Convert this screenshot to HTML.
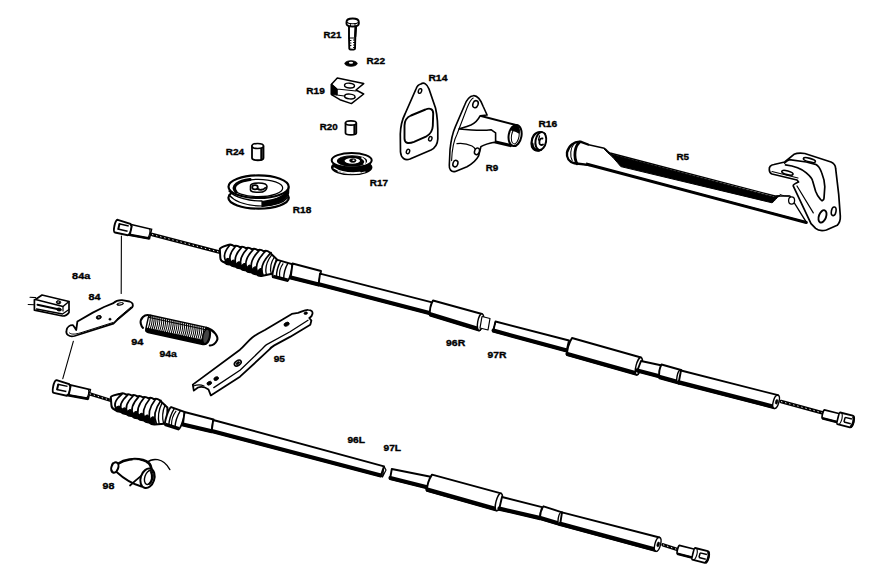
<!DOCTYPE html>
<html><head><meta charset="utf-8"><style>
html,body{margin:0;padding:0;background:#fff;width:876px;height:583px;overflow:hidden}
svg{display:block}
text{font-family:"Liberation Sans",sans-serif;font-weight:bold;fill:#000;stroke:#000;stroke-width:0.35px}
</style></head><body>
<svg width="876" height="583" viewBox="0 0 876 583">
<rect width="876" height="583" fill="#fff"/>
<g transform="translate(114.5 225.4) rotate(12.5) scale(1)"><path d="M15,-4.5 L37,-4.2 L37,5.2 L15,6 Z" fill="#fff" stroke="#000" stroke-width="1.6"/><path d="M15,6 L37,5.2" stroke="#000" stroke-width="2.6"/><path d="M35,-4.2 C36.5,-2 36.5,3 35,5.2" fill="none" stroke="#000" stroke-width="1.1"/><path d="M2,-6.2 L15,-5 L17,-3 L17,5 L15,6.8 L2,6.8 C-0.5,6.8 -0.8,-6.2 2,-6.2 Z" fill="#fff" stroke="#000" stroke-width="1.9"/><path d="M4,-2.5 L14,-2.5 M4,2.8 L14,2.8" stroke="#000" stroke-width="1.5"/><path d="M4.5,-3 L4.5,3.3" stroke="#000" stroke-width="2"/><path d="M15.5,-5 C17.5,-2 17.5,3 15.5,6.6" fill="none" stroke="#000" stroke-width="1.1"/></g>
<polyline points="152,234.5 221,252.5" fill="none" stroke="#000" stroke-width="3.4" stroke-linejoin="round" stroke-linecap="round" />
<line x1="152" y1="234.5" x2="221" y2="252.5" stroke="#fff" stroke-width="0.9" stroke-dasharray="1.4 2.8"/>
<path d="M219.8,249 C220.8,247 225,246 228,245 Q231.2,243.9 233.9,246 Q237.2,245 239.9,247.1 Q243.1,246 245.8,248.1 Q249,247 251.7,249.1 Q255,248.1 257.6,250.1 Q260.9,249.1 263.6,251.2 Q266.8,250.1 269.5,252.2 L276.5,259 L275.5,273 L261.5,276 Q258.6,276.4 256.2,274.1 Q253.4,274.5 251,272.1 Q248.1,272.6 245.7,270.2 Q242.8,270.6 240.4,268.3 Q237.5,268.7 235.1,266.4 Q232.3,266.8 229.9,264.4 Q227,264.8 224.6,262.5 C221.6,261.5 220.3,259.5 220.3,257.5 Z" fill="#fff" stroke="#000" stroke-width="2.0" stroke-linejoin="round" stroke-linecap="round" />
<path d="M224.6,262.5 L224.8,261.6 Q229.1,254.5 230.1,263.5 L230.1,263.5 Q234.7,256 235.4,265.4 L235.4,265.4 Q240.3,257.4 240.7,267.3 L240.7,267.3 Q245.9,258.9 246,269.2 L246,269.2 Q251.5,260.4 251.3,271 L251.3,271 Q257.1,261.9 256.6,272.9 L256.6,272.9 Q262.7,263.4 261.9,274.8 L261.5,276 Z" fill="#000" stroke="#000" stroke-width="1.2" stroke-linejoin="round" stroke-linecap="round" />
<path d="M229.5,245.5 Q221.6,254.8 226.1,261.5" fill="none" stroke="#000" stroke-width="1.7" stroke-linejoin="round" stroke-linecap="round" />
<path d="M235.4,246.5 Q226.9,256.2 231.4,263.4" fill="none" stroke="#000" stroke-width="1.7" stroke-linejoin="round" stroke-linecap="round" />
<path d="M241.4,247.6 Q232.1,257.7 236.6,265.4" fill="none" stroke="#000" stroke-width="1.7" stroke-linejoin="round" stroke-linecap="round" />
<path d="M247.3,248.6 Q237.4,259.2 241.9,267.3" fill="none" stroke="#000" stroke-width="1.7" stroke-linejoin="round" stroke-linecap="round" />
<path d="M253.2,249.6 Q242.7,260.7 247.2,269.2" fill="none" stroke="#000" stroke-width="1.7" stroke-linejoin="round" stroke-linecap="round" />
<path d="M259.1,250.6 Q248,262.1 252.5,271.1" fill="none" stroke="#000" stroke-width="1.7" stroke-linejoin="round" stroke-linecap="round" />
<path d="M265.1,251.7 Q253.2,263.6 257.7,273.1" fill="none" stroke="#000" stroke-width="1.7" stroke-linejoin="round" stroke-linecap="round" />
<path d="M271,252.7 Q258.5,265.1 263,275" fill="none" stroke="#000" stroke-width="1.7" stroke-linejoin="round" stroke-linecap="round" />
<path d="M271.9,254.6 Q263.9,264.8 266.4,274.9" fill="none" stroke="#000" stroke-width="1.3" stroke-linejoin="round" stroke-linecap="round" />
<path d="M274.4,257 Q268.8,265.4 271.3,273.9" fill="none" stroke="#000" stroke-width="1.3" stroke-linejoin="round" stroke-linecap="round" />
<g transform="translate(274.2 268.3) rotate(14.7)"><path d="M1,-9 L16,-8.5 C18,-7 18,7 16,9 L1,9 C-1,7 -1,-7 1,-9 Z" fill="#fff" stroke="#000" stroke-width="1.9"/><path d="M4.5,-8.5 C3,-3 3,3 4.5,8.5 M12,-8.5 C10.5,-3 10.5,3 12,8.5" fill="none" stroke="#000" stroke-width="1.4"/><path d="M1,7.5 L16,7.5" stroke="#000" stroke-width="2.2"/><path d="M7.5,-7 C5.5,-2 5.5,2 7.5,7" fill="none" stroke="#000" stroke-width="1.1"/></g>
<polygon points="292.5,263.5 321,271 318.5,285.5 290.5,278.5" fill="#fff" stroke="#000" stroke-width="1.9" stroke-linejoin="round" />
<polyline points="290.8,277.3 318.8,284.3" fill="none" stroke="#000" stroke-width="3.5" stroke-linejoin="round" stroke-linecap="round" />
<polygon points="320,273.7 433,302.7 431,314.5 318.5,285.3" fill="#fff" stroke="#000" stroke-width="1.9" stroke-linejoin="round" />
<polyline points="318.8,284 431.3,313.2" fill="none" stroke="#000" stroke-width="3.75" stroke-linejoin="round" stroke-linecap="round" />
<path d="M433,300.5 L482,314 L479,330.5 L430,315.5 Q429.1,307.3 433,300.5 Z" fill="#fff" stroke="#000" stroke-width="1.9" stroke-linejoin="round" stroke-linecap="round" />
<polyline points="430.4,314.1 479.4,329.1" fill="none" stroke="#000" stroke-width="4.0" stroke-linejoin="round" stroke-linecap="round" />
<ellipse cx="480.5" cy="322.2" rx="2.8" ry="8.4" transform="rotate(10.3 480.5 322.2)" fill="#fff" stroke="#000" stroke-width="1.4" />
<polygon points="482,316.5 490,318.5 488,330 480,328" fill="#fff" stroke="#000" stroke-width="1.2" stroke-linejoin="round" />
<polygon points="495.5,321.5 569,340.5 566.5,351.5 493,331.7" fill="#fff" stroke="#000" stroke-width="1.9" stroke-linejoin="round" />
<polyline points="493.4,330.4 566.9,350.2" fill="none" stroke="#000" stroke-width="3.75" stroke-linejoin="round" stroke-linecap="round" />
<polygon points="495.5,321.5 493,331.7" fill="#fff" stroke="#000" stroke-width="1" stroke-linejoin="round" />
<path d="M572,338 L641,357.5 L636.5,374.8 L567,355.2 Q567.1,345.9 572,338 Z" fill="#fff" stroke="#000" stroke-width="1.9" stroke-linejoin="round" stroke-linecap="round" />
<polyline points="567.4,353.8 636.9,373.4" fill="none" stroke="#000" stroke-width="4.0" stroke-linejoin="round" stroke-linecap="round" />
<ellipse cx="638.8" cy="366.1" rx="2.8" ry="8.9" transform="rotate(14.6 638.8 366.1)" fill="#fff" stroke="#000" stroke-width="1.4" />
<polygon points="641,361 662,365.5 660,377.5 637,371.5" fill="#fff" stroke="#000" stroke-width="1.9" stroke-linejoin="round" />
<polyline points="637.3,370.2 660.3,376.2" fill="none" stroke="#000" stroke-width="3.75" stroke-linejoin="round" stroke-linecap="round" />
<path d="M661.5,364.5 L681,370 L678.5,383.5 L659.5,378.3 Q658.1,370.7 661.5,364.5 Z" fill="#fff" stroke="#000" stroke-width="1.9" stroke-linejoin="round" stroke-linecap="round" />
<polyline points="659.9,376.9 678.9,382.1" fill="none" stroke="#000" stroke-width="4.0" stroke-linejoin="round" stroke-linecap="round" />
<ellipse cx="679.8" cy="376.8" rx="2.8" ry="6.9" transform="rotate(10.5 679.8 376.8)" fill="#fff" stroke="#000" stroke-width="1.4" />
<polygon points="681,370.5 778,395.2 774.3,408.3 678.5,383.5" fill="#fff" stroke="#000" stroke-width="1.9" stroke-linejoin="round" />
<polyline points="678.9,382.1 774.7,406.9" fill="none" stroke="#000" stroke-width="4.0" stroke-linejoin="round" stroke-linecap="round" />
<ellipse cx="776.1" cy="401.8" rx="2.8" ry="6.8" transform="rotate(15.8 776.1 401.8)" fill="#fff" stroke="#000" stroke-width="1.4" />
<ellipse cx="776.6" cy="401.8" rx="1.2" ry="2.4" transform="rotate(15.8 776.6 401.8)" fill="#000" stroke="#000" stroke-width="0.6" />
<polyline points="781,401.5 823,413" fill="none" stroke="#000" stroke-width="3.4" stroke-linejoin="round" stroke-linecap="round" />
<line x1="781" y1="401.5" x2="823" y2="413" stroke="#fff" stroke-width="0.9" stroke-dasharray="1.4 2.8"/>
<g transform="translate(823.3 414) rotate(14) scale(1)"><path d="M0,-4.2 L16,-4.2 L16,4.4 L0,4.4 C-1,4.4 -1,-4.2 0,-4.2 Z" fill="#fff" stroke="#000" stroke-width="1.7"/><path d="M0,4.4 L16,4.4" stroke="#000" stroke-width="2.6"/><path d="M16,-5.5 L29,-5.5 C32,-5.5 32.5,6.5 29,6.5 L16,6.5 C15,6.5 15,-5.5 16,-5.5 Z" fill="#fff" stroke="#000" stroke-width="1.9"/><path d="M22,-2 L29,-2 M22,2.8 L29,2.8 M22,-2 L22,2.8" stroke="#000" stroke-width="1.5"/><path d="M18,-5.3 C19.5,-2 19.5,3 18,6.3" fill="none" stroke="#000" stroke-width="1.1"/><path d="M29.5,-5 C31.5,-2 31.5,3 29.5,6.2" fill="none" stroke="#000" stroke-width="2.2"/></g>
<g transform="translate(53.3 385.8) rotate(12.5) scale(1)"><path d="M15,-4.5 L37,-4.2 L37,5.2 L15,6 Z" fill="#fff" stroke="#000" stroke-width="1.6"/><path d="M15,6 L37,5.2" stroke="#000" stroke-width="2.6"/><path d="M35,-4.2 C36.5,-2 36.5,3 35,5.2" fill="none" stroke="#000" stroke-width="1.1"/><path d="M2,-6.2 L15,-5 L17,-3 L17,5 L15,6.8 L2,6.8 C-0.5,6.8 -0.8,-6.2 2,-6.2 Z" fill="#fff" stroke="#000" stroke-width="1.9"/><path d="M4,-2.5 L14,-2.5 M4,2.8 L14,2.8" stroke="#000" stroke-width="1.5"/><path d="M4.5,-3 L4.5,3.3" stroke="#000" stroke-width="2"/><path d="M15.5,-5 C17.5,-2 17.5,3 15.5,6.6" fill="none" stroke="#000" stroke-width="1.1"/></g>
<polyline points="89.7,393.8 111,400.5" fill="none" stroke="#000" stroke-width="3.4" stroke-linejoin="round" stroke-linecap="round" />
<line x1="89.7" y1="393.8" x2="111" y2="400.5" stroke="#fff" stroke-width="0.9" stroke-dasharray="1.4 2.8"/>
<path d="M110.8,397.1 C111.8,395.1 117.5,394.7 120.5,393.7 Q123.5,392.6 126.1,394.6 Q129.1,393.5 131.6,395.5 Q134.6,394.4 137.2,396.4 Q140.2,395.3 142.7,397.3 Q145.8,396.2 148.3,398.2 Q151.3,397.1 153.8,399.1 Q156.9,398 159.4,400 L167.4,407.4 L167.4,423.4 L154.8,424.5 Q151.7,424.8 149.1,422.4 Q146,422.7 143.4,420.3 Q140.3,420.6 137.7,418.2 Q134.6,418.5 131.9,416 Q128.9,416.4 126.2,413.9 Q123.1,414.3 120.5,411.8 Q117.4,412.1 114.8,409.7 C111.8,408.7 111.4,407.1 111.4,405.1 Z" fill="#fff" stroke="#000" stroke-width="2.0" stroke-linejoin="round" stroke-linecap="round" />
<path d="M114.8,409.7 L115.1,408.9 Q120.5,402.5 120.8,411 L120.8,411 Q126.1,404 126.5,413 L126.5,413 Q131.7,405.5 132.2,415.1 L132.2,415.1 Q137.4,407 137.9,417.1 L137.9,417.1 Q143,408.5 143.6,419.2 L143.6,419.2 Q148.6,410 149.3,421.2 L149.3,421.2 Q154.3,411.5 155,423.3 L154.8,424.5 Z" fill="#000" stroke="#000" stroke-width="1.2" stroke-linejoin="round" stroke-linecap="round" />
<path d="M122,394.2 Q111.8,402.7 116.3,408.7" fill="none" stroke="#000" stroke-width="1.7" stroke-linejoin="round" stroke-linecap="round" />
<path d="M127.6,395.1 Q117.5,404.2 122,410.8" fill="none" stroke="#000" stroke-width="1.7" stroke-linejoin="round" stroke-linecap="round" />
<path d="M133.1,396 Q123.2,405.7 127.7,412.9" fill="none" stroke="#000" stroke-width="1.7" stroke-linejoin="round" stroke-linecap="round" />
<path d="M138.7,396.9 Q128.9,407.2 133.4,415" fill="none" stroke="#000" stroke-width="1.7" stroke-linejoin="round" stroke-linecap="round" />
<path d="M144.2,397.8 Q134.7,408.7 139.2,417.2" fill="none" stroke="#000" stroke-width="1.7" stroke-linejoin="round" stroke-linecap="round" />
<path d="M149.8,398.7 Q140.4,410.2 144.9,419.3" fill="none" stroke="#000" stroke-width="1.7" stroke-linejoin="round" stroke-linecap="round" />
<path d="M155.3,399.6 Q146.1,411.7 150.6,421.4" fill="none" stroke="#000" stroke-width="1.7" stroke-linejoin="round" stroke-linecap="round" />
<path d="M160.9,400.5 Q151.8,413.2 156.3,423.5" fill="none" stroke="#000" stroke-width="1.7" stroke-linejoin="round" stroke-linecap="round" />
<path d="M162.2,402.6 Q156.7,413.4 159.2,424.1" fill="none" stroke="#000" stroke-width="1.3" stroke-linejoin="round" stroke-linecap="round" />
<path d="M165,405.2 Q161.1,414.5 163.6,423.7" fill="none" stroke="#000" stroke-width="1.3" stroke-linejoin="round" stroke-linecap="round" />
<g transform="translate(167.2 415.8) rotate(18.1)"><path d="M1,-9.5 L15,-9.0 C17,-7.5 17,7.5 15,9.5 L1,9.5 C-1,7.5 -1,-7.5 1,-9.5 Z" fill="#fff" stroke="#000" stroke-width="1.9"/><path d="M4.5,-9.0 C3,-3 3,3 4.5,9.0 M11,-9.0 C9.5,-3 9.5,3 11,9.0" fill="none" stroke="#000" stroke-width="1.4"/><path d="M1,8.0 L15,8.0" stroke="#000" stroke-width="2.2"/><path d="M7.0,-7.5 C5.0,-2 5.0,2 7.0,7.5" fill="none" stroke="#000" stroke-width="1.1"/></g>
<polygon points="184.5,412 213.5,419.5 211.5,432.2 182.8,425.5" fill="#fff" stroke="#000" stroke-width="1.9" stroke-linejoin="round" />
<polyline points="183.1,424.3 211.8,431" fill="none" stroke="#000" stroke-width="3.5" stroke-linejoin="round" stroke-linecap="round" />
<polygon points="213.2,420 384,466.3 380.6,476.6 211.5,432" fill="#fff" stroke="#000" stroke-width="1.9" stroke-linejoin="round" />
<polyline points="211.8,430.7 380.9,475.3" fill="none" stroke="#000" stroke-width="3.75" stroke-linejoin="round" stroke-linecap="round" />
<polygon points="384,466.3 386,470 382.5,477" fill="#fff" stroke="#000" stroke-width="1.2" stroke-linejoin="round" />
<polygon points="391.8,469 432,477 427.8,488.6 390,479.2" fill="#fff" stroke="#000" stroke-width="1.9" stroke-linejoin="round" />
<polyline points="390.3,477.9 428.1,487.3" fill="none" stroke="#000" stroke-width="3.75" stroke-linejoin="round" stroke-linecap="round" />
<path d="M432,474.6 L501,493.4 L496.5,510.6 L426.9,490.9 Q427,482.1 432,474.6 Z" fill="#fff" stroke="#000" stroke-width="1.9" stroke-linejoin="round" stroke-linecap="round" />
<polyline points="427.3,489.5 496.9,509.2" fill="none" stroke="#000" stroke-width="4.0" stroke-linejoin="round" stroke-linecap="round" />
<ellipse cx="498.8" cy="502" rx="2.8" ry="8.9" transform="rotate(14.7 498.8 502)" fill="#fff" stroke="#000" stroke-width="1.4" />
<polygon points="502,497 542,507.2 540,519.2 499,509.7" fill="#fff" stroke="#000" stroke-width="1.9" stroke-linejoin="round" />
<polyline points="499.3,508.4 540.3,517.9" fill="none" stroke="#000" stroke-width="3.75" stroke-linejoin="round" stroke-linecap="round" />
<path d="M543.5,506.3 L562,512.3 L560,525.2 L540,519.2 Q539.4,512 543.5,506.3 Z" fill="#fff" stroke="#000" stroke-width="1.9" stroke-linejoin="round" stroke-linecap="round" />
<polyline points="540.4,517.8 560.4,523.8" fill="none" stroke="#000" stroke-width="4.0" stroke-linejoin="round" stroke-linecap="round" />
<ellipse cx="561" cy="518.8" rx="2.8" ry="6.5" transform="rotate(8.8 561 518.8)" fill="#fff" stroke="#000" stroke-width="1.4" />
<polygon points="562,512.3 659.5,537.5 655.9,551.2 560,525.2" fill="#fff" stroke="#000" stroke-width="1.9" stroke-linejoin="round" />
<polyline points="560.4,523.8 656.3,549.8" fill="none" stroke="#000" stroke-width="4.0" stroke-linejoin="round" stroke-linecap="round" />
<ellipse cx="657.7" cy="544.4" rx="2.8" ry="7.1" transform="rotate(14.7 657.7 544.4)" fill="#fff" stroke="#000" stroke-width="1.4" />
<ellipse cx="658.2" cy="544.4" rx="1.2" ry="2.5" transform="rotate(14.7 658.2 544.4)" fill="#000" stroke="#000" stroke-width="0.6" />
<polyline points="663,544.8 677,549.4" fill="none" stroke="#000" stroke-width="3.4" stroke-linejoin="round" stroke-linecap="round" />
<line x1="663" y1="544.8" x2="677" y2="549.4" stroke="#fff" stroke-width="0.9" stroke-dasharray="1.4 2.8"/>
<g transform="translate(678.3 549.5) rotate(14) scale(1)"><path d="M0,-4.2 L16,-4.2 L16,4.4 L0,4.4 C-1,4.4 -1,-4.2 0,-4.2 Z" fill="#fff" stroke="#000" stroke-width="1.7"/><path d="M0,4.4 L16,4.4" stroke="#000" stroke-width="2.6"/><path d="M16,-5.5 L29,-5.5 C32,-5.5 32.5,6.5 29,6.5 L16,6.5 C15,6.5 15,-5.5 16,-5.5 Z" fill="#fff" stroke="#000" stroke-width="1.9"/><path d="M22,-2 L29,-2 M22,2.8 L29,2.8 M22,-2 L22,2.8" stroke="#000" stroke-width="1.5"/><path d="M18,-5.3 C19.5,-2 19.5,3 18,6.3" fill="none" stroke="#000" stroke-width="1.1"/><path d="M29.5,-5 C31.5,-2 31.5,3 29.5,6.2" fill="none" stroke="#000" stroke-width="2.2"/></g>
<polyline points="121.4,236 121.2,293.5" fill="none" stroke="#000" stroke-width="1.1" stroke-linejoin="round" stroke-linecap="round" />
<polyline points="73.4,341.2 62.8,378.6" fill="none" stroke="#000" stroke-width="1.1" stroke-linejoin="round" stroke-linecap="round" />
<path d="M30,297.2 L35.7,297.6 M28.2,304.5 L34.4,304.8" fill="none" stroke="#000" stroke-width="1.1" stroke-linejoin="round" stroke-linecap="round" />
<path d="M34.4,299.8 L34.4,310.2 L62.5,316 C65,316 68,314 69,312.5 L69,301.5 L42,295 L35.5,299.5 Z" fill="#fff" stroke="#000" stroke-width="1.7" stroke-linejoin="round" stroke-linecap="round" />
<path d="M35.5,299.5 L63,306.5 L69,301.5" fill="none" stroke="#000" stroke-width="1.5" stroke-linejoin="round" stroke-linecap="round" />
<path d="M63,306.5 L63,311" fill="none" stroke="#000" stroke-width="1.2" stroke-linejoin="round" stroke-linecap="round" />
<path d="M36.5,309 L62.5,314 L69,309.5" fill="none" stroke="#000" stroke-width="1.3" stroke-linejoin="round" stroke-linecap="round" />
<path d="M37.5,304.8 L60.5,309.8" fill="none" stroke="#000" stroke-width="2.0" stroke-linejoin="round" stroke-linecap="round" />
<ellipse cx="58.5" cy="302.3" rx="2.3" ry="1.6" transform="rotate(10 58.5 302.3)" fill="#000" stroke="#000" stroke-width="0.8" />
<ellipse cx="58.3" cy="302" rx="0.9" ry="0.6" transform="rotate(0 58.3 302)" fill="#fff" stroke="none" stroke-width="1.2" />
<ellipse cx="59" cy="309.5" rx="2.3" ry="1.5" transform="rotate(10 59 309.5)" fill="#000" stroke="#000" stroke-width="0.8" />
<path d="M77.4,321.5 L92.8,312.6 C96,311 100,309 104,307 L113.4,303.1 C116,300.5 119,300 122,300.1 L129.5,301.5 C133,302.5 133.5,305 132.2,307.4 L117,320 L113.4,323.7 L74.5,336 C69,337.5 65.5,334 66.5,330.5 C67,327 70,325 73,325.2 L75,328 L76.2,330 Z" fill="#fff" stroke="#000" stroke-width="1.8" stroke-linejoin="round" stroke-linecap="round" />
<path d="M69.5,333 C72,335 76,334 80,333 L113,322.5 M117,319 L131,307" fill="none" stroke="#000" stroke-width="1.0" stroke-linejoin="round" stroke-linecap="round" />
<ellipse cx="98.8" cy="317.3" rx="2.6" ry="1.8" transform="rotate(-15 98.8 317.3)" fill="#000" stroke="#000" stroke-width="0.8" />
<ellipse cx="98.8" cy="317" rx="1" ry="0.6" transform="rotate(0 98.8 317)" fill="#fff" stroke="none" stroke-width="1.2" />
<ellipse cx="110" cy="319.2" rx="1.2" ry="1" transform="rotate(0 110 319.2)" fill="#000" stroke="#000" stroke-width="0.6" />
<ellipse cx="120.2" cy="304" rx="3.5" ry="1.3" transform="rotate(-12 120.2 304)" fill="#000" stroke="#000" stroke-width="0.6" />
<ellipse cx="120.5" cy="303.8" rx="2.2" ry="0.5" transform="rotate(-12 120.5 303.8)" fill="#fff" stroke="none" stroke-width="1.2" />
<g transform="translate(148.8,315.3) rotate(12.3)"><path d="M0,2 C0,0 1,-0.5 3,-0.5 L59,-0.5 C63,-0.5 64.5,4 64.5,8.5 C64.5,13 63,17 59,17 L3,17 C1,17 0,16 0,14 Z" fill="#fff" stroke="#000" stroke-width="1.4"/><path d="M1.5,-0.3 C2.7,4 2.7,12 1.5,16.8" stroke="#000" stroke-width="1.0" fill="none"/><path d="M3.5,-0.3 C4.7,4 4.7,12 3.5,16.8" stroke="#000" stroke-width="1.0" fill="none"/><path d="M5.4,-0.3 C6.6,4 6.6,12 5.4,16.8" stroke="#000" stroke-width="1.0" fill="none"/><path d="M7.3,-0.3 C8.5,4 8.5,12 7.3,16.8" stroke="#000" stroke-width="1.0" fill="none"/><path d="M9.3,-0.3 C10.5,4 10.5,12 9.3,16.8" stroke="#000" stroke-width="1.0" fill="none"/><path d="M11.2,-0.3 C12.4,4 12.4,12 11.2,16.8" stroke="#000" stroke-width="1.0" fill="none"/><path d="M13.2,-0.3 C14.4,4 14.4,12 13.2,16.8" stroke="#000" stroke-width="1.0" fill="none"/><path d="M15.2,-0.3 C16.4,4 16.4,12 15.2,16.8" stroke="#000" stroke-width="1.0" fill="none"/><path d="M17.1,-0.3 C18.3,4 18.3,12 17.1,16.8" stroke="#000" stroke-width="1.0" fill="none"/><path d="M19.1,-0.3 C20.2,4 20.2,12 19.1,16.8" stroke="#000" stroke-width="1.0" fill="none"/><path d="M21.0,-0.3 C22.2,4 22.2,12 21.0,16.8" stroke="#000" stroke-width="1.0" fill="none"/><path d="M22.9,-0.3 C24.1,4 24.1,12 22.9,16.8" stroke="#000" stroke-width="1.0" fill="none"/><path d="M24.9,-0.3 C26.1,4 26.1,12 24.9,16.8" stroke="#000" stroke-width="1.0" fill="none"/><path d="M26.8,-0.3 C28.0,4 28.0,12 26.8,16.8" stroke="#000" stroke-width="1.0" fill="none"/><path d="M28.8,-0.3 C30.0,4 30.0,12 28.8,16.8" stroke="#000" stroke-width="1.0" fill="none"/><path d="M30.8,-0.3 C31.9,4 31.9,12 30.8,16.8" stroke="#000" stroke-width="1.0" fill="none"/><path d="M32.7,-0.3 C33.9,4 33.9,12 32.7,16.8" stroke="#000" stroke-width="1.0" fill="none"/><path d="M34.6,-0.3 C35.9,4 35.9,12 34.6,16.8" stroke="#000" stroke-width="1.0" fill="none"/><path d="M36.6,-0.3 C37.8,4 37.8,12 36.6,16.8" stroke="#000" stroke-width="1.0" fill="none"/><path d="M38.5,-0.3 C39.8,4 39.8,12 38.5,16.8" stroke="#000" stroke-width="1.0" fill="none"/><path d="M40.5,-0.3 C41.7,4 41.7,12 40.5,16.8" stroke="#000" stroke-width="1.0" fill="none"/><path d="M42.4,-0.3 C43.6,4 43.6,12 42.4,16.8" stroke="#000" stroke-width="1.0" fill="none"/><path d="M44.4,-0.3 C45.6,4 45.6,12 44.4,16.8" stroke="#000" stroke-width="1.0" fill="none"/><path d="M46.4,-0.3 C47.6,4 47.6,12 46.4,16.8" stroke="#000" stroke-width="1.0" fill="none"/><path d="M48.3,-0.3 C49.5,4 49.5,12 48.3,16.8" stroke="#000" stroke-width="1.0" fill="none"/><path d="M50.2,-0.3 C51.5,4 51.5,12 50.2,16.8" stroke="#000" stroke-width="1.0" fill="none"/><path d="M52.2,-0.3 C53.4,4 53.4,12 52.2,16.8" stroke="#000" stroke-width="1.0" fill="none"/><path d="M54.1,-0.3 C55.4,4 55.4,12 54.1,16.8" stroke="#000" stroke-width="1.0" fill="none"/><path d="M56.1,-0.3 C57.3,4 57.3,12 56.1,16.8" stroke="#000" stroke-width="1.0" fill="none"/><path d="M58.0,-0.3 C59.2,4 59.2,12 58.0,16.8" stroke="#000" stroke-width="1.0" fill="none"/><path d="M0,12.5 L60,12.5 C62,12.5 63,14 62,17 L3,17 C1,17 0,16 0,14 Z" fill="#000"/><path d="M0,2 L60,2" stroke="#000" stroke-width="1.2"/><ellipse cx="60.5" cy="8.3" rx="3.3" ry="7.5" fill="#444" stroke="#000" stroke-width="1.4"/><path d="M2,0 C-5,-1.5 -8,6 -6,10 C-5,12 -4,13 -3,13.5" stroke="#000" stroke-width="2.1" fill="none" stroke-linecap="round"/><path d="M59,0 C67,0.5 73,6 72,10 C71,14 69,16 66,16.5" stroke="#000" stroke-width="2.1" fill="none" stroke-linecap="round"/></g>
<path d="M192.8,384.6 L240,349.7 C245,345 248,341 252,337.7 C256,334.5 260,332.5 264.9,330 L291.8,313.9 L298,312.9 C302,311.5 305,309.5 308.3,309.8 C311.5,310 313,312 312.4,314 C312,316.5 310,317.5 309.3,318 L311.4,320.6 L310.3,324.7 L290,336.9 L274.3,345.4 C271.5,347 270.5,348 269.2,349.7 L240,376.7 L210.8,395.4 L208.5,389.5 C205,387 201,386.5 198,387.5 L193.8,390.6 Z" fill="#fff" stroke="#000" stroke-width="1.8" stroke-linejoin="round" stroke-linecap="round" />
<path d="M193.5,386 C197,384.5 201,384.5 204,386 M213.8,387.6 L240,370.3 L262,349 C264,347 265,345.5 266.6,344.6 L290,331.7 L308,320.3" fill="none" stroke="#000" stroke-width="1.3" stroke-linejoin="round" stroke-linecap="round" />
<ellipse cx="286.6" cy="324.2" rx="2.8" ry="1.8" transform="rotate(-25 286.6 324.2)" fill="#000" stroke="#000" stroke-width="0.8" />
<ellipse cx="237.8" cy="363.1" rx="3.8" ry="2.3" transform="rotate(-35 237.8 363.1)" fill="#fff" stroke="#000" stroke-width="1.6" />
<ellipse cx="237.8" cy="363.1" rx="2" ry="1" transform="rotate(-35 237.8 363.1)" fill="#000" stroke="#000" stroke-width="0.8" />
<ellipse cx="209.3" cy="383.2" rx="2.5" ry="1.7" transform="rotate(-25 209.3 383.2)" fill="#000" stroke="#000" stroke-width="0.8" />
<ellipse cx="216.2" cy="378.6" rx="2.5" ry="1.7" transform="rotate(-25 216.2 378.6)" fill="#000" stroke="#000" stroke-width="0.8" />
<ellipse cx="305.7" cy="313.2" rx="1.8" ry="1.3" transform="rotate(-10 305.7 313.2)" fill="#000" stroke="#000" stroke-width="0.6" />
<path d="M118.5,463.5 C124,459.5 134,457.8 143,460 C148,461.5 151,464 151.5,469" fill="none" stroke="#000" stroke-width="2.6" stroke-linejoin="round" stroke-linecap="round" />
<path d="M133,460.3 C136,460 139,460.5 141,461.5" fill="none" stroke="#fff" stroke-width="0.9" stroke-linejoin="round" stroke-linecap="round" />
<path d="M116,471.5 C122,477 132,484 141.5,486.5" fill="none" stroke="#000" stroke-width="1.9" stroke-linejoin="round" stroke-linecap="round" />
<path d="M149.5,470 C143,474 136,480 130,485.5" fill="none" stroke="#000" stroke-width="1.7" stroke-linejoin="round" stroke-linecap="round" />
<path d="M147,462.5 C152,458 163,457 169.8,469.5" fill="none" stroke="#000" stroke-width="1.5" stroke-linejoin="round" stroke-linecap="round" />
<ellipse cx="114.8" cy="467.5" rx="3.4" ry="5.3" transform="rotate(20 114.8 467.5)" fill="#fff" stroke="#000" stroke-width="2.0" />
<path d="M112.5,463 C111,466 111.5,470 113,472" fill="none" stroke="#000" stroke-width="1.1" stroke-linejoin="round" stroke-linecap="round" />
<ellipse cx="147.5" cy="478.3" rx="6.8" ry="10" transform="rotate(18 147.5 478.3)" fill="#fff" stroke="#000" stroke-width="2.0" />
<ellipse cx="148.8" cy="477.5" rx="4" ry="7.2" transform="rotate(18 148.8 477.5)" fill="none" stroke="#000" stroke-width="1.4" />
<path d="M151,472 C153,476 152,482 149,484" fill="none" stroke="#000" stroke-width="2.0" stroke-linejoin="round" stroke-linecap="round" />
<path d="M349,26 L349,37 L349.3,48.5 C349.5,50 355,50 355,48.5 L355.3,37 L356.2,26 Z" fill="#fff" stroke="#000" stroke-width="1.9" stroke-linejoin="round" stroke-linecap="round" />
<path d="M355.5,27 L355.2,36.5" fill="none" stroke="#000" stroke-width="2.2" stroke-linejoin="round" stroke-linecap="round" />
<path d="M349,38 L355.3,38" fill="none" stroke="#000" stroke-width="1.0" stroke-linejoin="round" stroke-linecap="round" />
<path d="M349.5,40.5 L351,40.5 M349.5,43 L351,43 M349.5,45.5 L351,45.5 M353.5,40 L355,40 M353.5,42.5 L355,42.5 M353.5,45 L355,45 M353.5,47.5 L355,47.5" fill="none" stroke="#000" stroke-width="1.1" stroke-linejoin="round" stroke-linecap="round" />
<path d="M346.5,22 C346.5,19.2 350,18.5 352.7,18.5 C355.5,18.5 358.8,19.2 358.8,22 L358.8,23.8 C358.8,26 355.5,26.5 352.7,26.5 C350,26.5 346.5,26 346.5,23.8 Z" fill="#fff" stroke="#000" stroke-width="1.9" stroke-linejoin="round" stroke-linecap="round" />
<path d="M347,22.3 C349,24.2 356.5,24.2 358.5,22.3 M350.5,23.6 L350.5,26.3 M355,23.6 L355,26.3" fill="none" stroke="#000" stroke-width="1.1" stroke-linejoin="round" stroke-linecap="round" />
<ellipse cx="351" cy="63.5" rx="6.2" ry="2.8" transform="rotate(0 351 63.5)" fill="#000" stroke="#000" stroke-width="0.8" />
<ellipse cx="351" cy="62.8" rx="2.2" ry="1" transform="rotate(0 351 62.8)" fill="#fff" stroke="none" stroke-width="1.2" />
<path d="M337.3,77.9 L363.7,83.6 L356,90 L363.7,94 L351.4,103.6 L339.9,99.7 L331.5,94.6 L331.5,84.3 Z" fill="#fff" stroke="#000" stroke-width="1.5" stroke-linejoin="round" stroke-linecap="round" />
<path d="M331.5,84.3 L337,89 L356,91 M337,89 L337,95 L355,97.5" fill="none" stroke="#000" stroke-width="1.2" stroke-linejoin="round" stroke-linecap="round" />
<path d="M331.5,84.3 L337,89 L337,95 L331.5,94.6 Z" fill="#000" stroke="#000" stroke-width="1" stroke-linejoin="round" stroke-linecap="round" />
<ellipse cx="349.5" cy="85.6" rx="5" ry="2.4" transform="rotate(5 349.5 85.6)" fill="#fff" stroke="#000" stroke-width="1.4" />
<ellipse cx="349.8" cy="96.5" rx="5.2" ry="2.4" transform="rotate(5 349.8 96.5)" fill="#fff" stroke="#000" stroke-width="1.4" />
<path d="M345.5,123 L345.5,133 C345.5,135.5 356.3,135.5 356.3,133 L356.3,123" fill="#fff" stroke="#000" stroke-width="1.8" stroke-linejoin="round" stroke-linecap="round" />
<path d="M354.5,124.5 L354.5,134" fill="none" stroke="#000" stroke-width="2.2" stroke-linejoin="round" stroke-linecap="round" />
<ellipse cx="350.9" cy="123" rx="5.4" ry="2.1" transform="rotate(0 350.9 123)" fill="#fff" stroke="#000" stroke-width="1.6" />
<path d="M252,146 L252,158 C252,161 263.5,161 263.5,158 L263.5,146" fill="#fff" stroke="#000" stroke-width="1.8" stroke-linejoin="round" stroke-linecap="round" />
<path d="M261.5,147.5 L261.5,159.5" fill="none" stroke="#000" stroke-width="2.4" stroke-linejoin="round" stroke-linecap="round" />
<ellipse cx="257.7" cy="146" rx="5.7" ry="2.5" transform="rotate(0 257.7 146)" fill="#fff" stroke="#000" stroke-width="1.6" />
<ellipse cx="258.6" cy="197.8" rx="30.2" ry="10.8" transform="rotate(0 258.6 197.8)" fill="#fff" stroke="#000" stroke-width="2.2" />
<path d="M229,195 C236,203 250,206 262,206 C275,206 284,202 288.5,197" fill="none" stroke="#000" stroke-width="1.2" stroke-linejoin="round" stroke-linecap="round" />
<path d="M262,206.5 C277,205 287,200 288.6,193 L288.8,187 C287,195 277,200 262,201.5 Z" fill="#000" stroke="#000" stroke-width="1.2" stroke-linejoin="round" stroke-linecap="round" />
<path d="M229,191 C235,198 250,201 262,201" fill="none" stroke="#000" stroke-width="1.3" stroke-linejoin="round" stroke-linecap="round" />
<ellipse cx="258.6" cy="186.7" rx="30.1" ry="11.3" transform="rotate(0 258.6 186.7)" fill="#fff" stroke="#000" stroke-width="2.2" />
<ellipse cx="258.2" cy="188" rx="24.5" ry="8.7" transform="rotate(0 258.2 188)" fill="none" stroke="#000" stroke-width="1.2" />
<path d="M236,192 C231,186 238,181 250,179.5" fill="none" stroke="#000" stroke-width="3.2" stroke-linejoin="round" stroke-linecap="round" />
<path d="M250.5,186 C250.5,183.5 253,183 258.5,183 C264,183 267,183.5 267,186.5 C267,190 265,192.3 259,192.3 C253.5,192.3 250,191.5 250.5,189.5 Z" fill="#fff" stroke="#000" stroke-width="1.6" stroke-linejoin="round" stroke-linecap="round" />
<ellipse cx="255" cy="187.2" rx="2.8" ry="2.1" transform="rotate(0 255 187.2)" fill="none" stroke="#000" stroke-width="1.8" />
<path d="M257.5,188.8 C259.5,190.3 263,190.2 265.3,187.8" fill="none" stroke="#000" stroke-width="1.8" stroke-linejoin="round" stroke-linecap="round" />
<ellipse cx="351.7" cy="167.3" rx="20" ry="7.3" transform="rotate(0 351.7 167.3)" fill="#000" stroke="#000" stroke-width="1.5" />
<path d="M334,168 C340,172 350,173.5 360,172.5" fill="none" stroke="#fff" stroke-width="1.3" stroke-linejoin="round" stroke-linecap="round" />
<path d="M338,171.5 C345,174 355,174.5 365,172" fill="none" stroke="#fff" stroke-width="0.9" stroke-linejoin="round" stroke-linecap="round" />
<ellipse cx="351.7" cy="160.3" rx="20" ry="7.3" transform="rotate(0 351.7 160.3)" fill="#fff" stroke="#000" stroke-width="2.0" />
<ellipse cx="352" cy="161" rx="14.8" ry="5.2" transform="rotate(0 352 161)" fill="#000" stroke="#000" stroke-width="1" />
<path d="M362,158 C365,160 366,162 364,164" fill="none" stroke="#fff" stroke-width="1.6" stroke-linejoin="round" stroke-linecap="round" />
<ellipse cx="352.3" cy="160.8" rx="8.5" ry="3.6" transform="rotate(0 352.3 160.8)" fill="#fff" stroke="#000" stroke-width="1.4" />
<ellipse cx="352.8" cy="160.5" rx="3.2" ry="1.8" transform="rotate(0 352.8 160.5)" fill="#000" stroke="#000" stroke-width="0.8" />
<ellipse cx="353.5" cy="160.2" rx="1.2" ry="0.7" transform="rotate(0 353.5 160.2)" fill="#fff" stroke="none" stroke-width="1.2" />
<path d="M420.9,84 C424,82 427,84 429,89 L435.5,108 C437.5,116 438,128 437.8,139 C437.5,145 435,148 431,150 L410,159 C405,161 401,158 400.5,152 L400.3,134 C400.5,127 402,120 405,114 L416,89 C417,86 418.5,84.5 420.9,84 Z" fill="#fff" stroke="#000" stroke-width="1.7" stroke-linejoin="round" stroke-linecap="round" />
<path d="M404.5,125.5 C404.5,120.5 406.5,117.5 411,115.5 L425.5,109.5 C430,107.5 433.2,109 433.2,113.5 L432.8,126 C432.5,131 430.5,134 426.5,136.3 L414,141.8 C408,144.2 404.5,143 404.5,138.5 Z" fill="none" stroke="#000" stroke-width="1.9" stroke-linejoin="round" stroke-linecap="round" />
<ellipse cx="420" cy="91" rx="1.6" ry="2.4" transform="rotate(20 420 91)" fill="#fff" stroke="#000" stroke-width="1.4" />
<ellipse cx="430.3" cy="138.8" rx="1.6" ry="2.3" transform="rotate(20 430.3 138.8)" fill="#fff" stroke="#000" stroke-width="1.4" />
<ellipse cx="408" cy="151.5" rx="1.6" ry="2.3" transform="rotate(20 408 151.5)" fill="#fff" stroke="#000" stroke-width="1.4" />
<path d="M480.1,115.8 L515,124.8 L510.2,146 L495.6,141 L495.6,133 Z" fill="#fff" stroke="none" stroke-width="0" stroke-linejoin="round" stroke-linecap="round" />
<path d="M480.1,115.8 L515,124.8" fill="none" stroke="#000" stroke-width="2.0" stroke-linejoin="round" stroke-linecap="round" />
<path d="M489,140.5 L510.5,145.5" fill="none" stroke="#000" stroke-width="3.2" stroke-linejoin="round" stroke-linecap="round" />
<path d="M473.2,95.7 C477,95 481,100 483.2,106.5 L487.1,115 L480.1,115.8 C478,120 475,123 470.9,125 C466,127 462,128 459,129 C470,130 482,131 491,129.7 L495.6,132.8 L495.6,142 C490,143 485,144 480.9,146.7 C480,150 479.5,153 478.6,155.9 C476,161 472,164 467,166.7 L455.4,171.4 C451,172.5 449,169 449.3,165.2 L450,149.7 C451,140 453,132 455.4,126.6 L464.7,105 C467,99 470,96 473.2,95.7 Z" fill="#fff" stroke="#000" stroke-width="1.6" stroke-linejoin="round" stroke-linecap="round" />
<path d="M451.6,160.6 C452,150 454,140 457,134.3 L467,108 C469,103 471,99 473.2,98" fill="none" stroke="#000" stroke-width="1.1" stroke-linejoin="round" stroke-linecap="round" />
<path d="M457,143.6 C462,143 467.8,144 472,146 C474,147 475,148.5 475.5,149.8" fill="none" stroke="#000" stroke-width="1.3" stroke-linejoin="round" stroke-linecap="round" />
<ellipse cx="515.1" cy="135.5" rx="6.4" ry="10.7" transform="rotate(10 515.1 135.5)" fill="#fff" stroke="#000" stroke-width="2.0" />
<path d="M511.5,130 C512.5,126.5 516,125.5 518.5,127 C519.5,129 519.5,131 519,133 C517,131 514,130.5 511.5,130 Z" fill="#000" stroke="#000" stroke-width="1.2" stroke-linejoin="round" stroke-linecap="round" />
<ellipse cx="515.3" cy="135.8" rx="3.8" ry="8.2" transform="rotate(10 515.3 135.8)" fill="none" stroke="#000" stroke-width="1.0" />
<ellipse cx="475.5" cy="104.2" rx="2.6" ry="3.6" transform="rotate(20 475.5 104.2)" fill="#fff" stroke="#000" stroke-width="1.5" />
<ellipse cx="477" cy="151.3" rx="2.4" ry="3.4" transform="rotate(20 477 151.3)" fill="#fff" stroke="#000" stroke-width="1.5" />
<ellipse cx="455.4" cy="163.6" rx="2.4" ry="3.3" transform="rotate(20 455.4 163.6)" fill="#fff" stroke="#000" stroke-width="1.5" />
<path d="M540,132 C535,132 531.5,137 531.5,143 C531.5,148 534,150.5 538,150.5 L541,150 L545,134 Z" fill="#fff" stroke="#000" stroke-width="2.2" stroke-linejoin="round" stroke-linecap="round" />
<path d="M532.2,144 C532.5,148 535,150.5 539,150.3" fill="none" stroke="#000" stroke-width="2.8" stroke-linejoin="round" stroke-linecap="round" />
<ellipse cx="540.8" cy="141" rx="5.3" ry="9" transform="rotate(10 540.8 141)" fill="#fff" stroke="#000" stroke-width="2.0" />
<path d="M539.5,136 L538.5,140" fill="none" stroke="#000" stroke-width="1.3" stroke-linejoin="round" stroke-linecap="round" />
<path d="M542.5,138.5 C540,138 539,141 539.5,143.5 C540,145 541.5,145.5 543,144.5" fill="none" stroke="#000" stroke-width="1.8" stroke-linejoin="round" stroke-linecap="round" />
<path d="M579.7,142.8 L604.3,148.3 C607,150 608,152 610,153 L775,196 L790,196 L806.3,222.2 L582.4,163 Z" fill="#fff" stroke="#000" stroke-width="1.4" stroke-linejoin="round" stroke-linecap="round" />
<path d="M604.3,149 C607,151 609,153 611,154.3 L773.6,197 C776,196.5 778,195.5 780,195.5 C776,198 775,201 772,202.8 L620.8,166.6 C616,161 612,156 608,153 Z" fill="#000" stroke="#000" stroke-width="1" stroke-linejoin="round" stroke-linecap="round" />
<path d="M780,194.4 C783,196 786,196 789,196" fill="none" stroke="#000" stroke-width="0.9" stroke-linejoin="round" stroke-linecap="round" />
<polyline points="582.4,163 806.3,222.5" fill="none" stroke="#000" stroke-width="3" stroke-linejoin="round" stroke-linecap="round" />
<path d="M581,141.8 C574,141 568.5,146 567,152.5 C566.3,157.5 569,161.8 574.5,163.3 L580,164.5 L586,165 L588,145 Z" fill="#fff" stroke="none" stroke-width="0" stroke-linejoin="round" stroke-linecap="round" />
<path d="M588,144.5 L581,141.8 C574,141 568.5,146 567,152.5 C566.3,157.5 569,161.8 574.5,163.3 L590,165.1" fill="none" stroke="#000" stroke-width="2.4" stroke-linejoin="round" stroke-linecap="round" />
<path d="M579.5,142.3 C574.5,146 573.5,157 577,163.8" fill="none" stroke="#000" stroke-width="2.8" stroke-linejoin="round" stroke-linecap="round" />
<path d="M573.8,144.2 C570.3,148 569.8,156 572.2,160.5" fill="none" stroke="#000" stroke-width="1.1" stroke-linejoin="round" stroke-linecap="round" />
<path d="M769.3,169.7 C769,167 771,165 774,164.5 L784.7,162 L794,154.3 C797,153 801,153 804.8,153.5 L831,162 C834,163.5 835.5,165.5 835.6,168.2 L838.7,194.4 L840.3,216 C840.5,220 839.5,223 837.2,225.3 L826.4,230 C822,231 818,230.5 815.6,228.4 L811,223.7 L793.2,185.9 C793,184.5 796,183 798.6,182 L797,180 L772,174 C770,173 769.3,171.5 769.3,169.7 Z" fill="#fff" stroke="#000" stroke-width="1.7" stroke-linejoin="round" stroke-linecap="round" />
<path d="M785.5,164.8 C795,166 802,169 806.3,172.8 C810,176 812,178 812.5,180.5 L815.6,191.3 C817,195 818.5,197.5 820.2,199 C821,200 822,201 822.5,200.6 C823.5,200 824,199 824,198.3 L824.8,186.7 C824.5,180 823,176 821.7,172.8 C820,168 818,165.5 815.6,164.3 L806.3,162 L789.3,159.7 C787,160.5 785.5,162 784.7,163" fill="none" stroke="#000" stroke-width="1.7" stroke-linejoin="round" stroke-linecap="round" />
<path d="M797,186 L813.3,212.9" fill="none" stroke="#000" stroke-width="1.2" stroke-linejoin="round" stroke-linecap="round" />
<path d="M772,171.5 L798,178" fill="none" stroke="#000" stroke-width="1.1" stroke-linejoin="round" stroke-linecap="round" />
<ellipse cx="822.5" cy="216.4" rx="3.6" ry="6.5" transform="rotate(20 822.5 216.4)" fill="#fff" stroke="#000" stroke-width="1.9" />
<ellipse cx="833.7" cy="211.3" rx="2.3" ry="4.4" transform="rotate(10 833.7 211.3)" fill="#fff" stroke="#000" stroke-width="1.6" />
<ellipse cx="809.4" cy="160.1" rx="6.2" ry="1.8" transform="rotate(15 809.4 160.1)" fill="#fff" stroke="#000" stroke-width="1.6" />
<ellipse cx="787.4" cy="172.8" rx="5.8" ry="1.9" transform="rotate(15 787.4 172.8)" fill="#fff" stroke="#000" stroke-width="1.6" />
<ellipse cx="791.6" cy="200.5" rx="3" ry="3.6" transform="rotate(0 791.6 200.5)" fill="#fff" stroke="#000" stroke-width="1.3" />
<text x="323.5" y="37.6" textLength="17.8" lengthAdjust="spacingAndGlyphs" font-size="9.4">R21</text>
<text x="366.6" y="64.4" textLength="18.5" lengthAdjust="spacingAndGlyphs" font-size="9.4">R22</text>
<text x="306.2" y="93.6" textLength="18.6" lengthAdjust="spacingAndGlyphs" font-size="9.4">R19</text>
<text x="428.4" y="80.6" textLength="19" lengthAdjust="spacingAndGlyphs" font-size="9.4">R14</text>
<text x="319.7" y="130.3" textLength="18" lengthAdjust="spacingAndGlyphs" font-size="9.4">R20</text>
<text x="538.4" y="126.6" textLength="18.8" lengthAdjust="spacingAndGlyphs" font-size="9.4">R16</text>
<text x="225.8" y="155.3" textLength="18.4" lengthAdjust="spacingAndGlyphs" font-size="9.4">R24</text>
<text x="676.5" y="159.5" textLength="12.6" lengthAdjust="spacingAndGlyphs" font-size="9.4">R5</text>
<text x="485.7" y="170.5" textLength="12.6" lengthAdjust="spacingAndGlyphs" font-size="9.4">R9</text>
<text x="369.8" y="186.4" textLength="18.4" lengthAdjust="spacingAndGlyphs" font-size="9.4">R17</text>
<text x="292.8" y="212.5" textLength="18.5" lengthAdjust="spacingAndGlyphs" font-size="9.4">R18</text>
<text x="72.1" y="278.8" textLength="18.2" lengthAdjust="spacingAndGlyphs" font-size="9.4">84a</text>
<text x="88.5" y="299.5" textLength="12" lengthAdjust="spacingAndGlyphs" font-size="9.4">84</text>
<text x="131.2" y="345" textLength="12.2" lengthAdjust="spacingAndGlyphs" font-size="9.4">94</text>
<text x="159.5" y="356.7" textLength="17.4" lengthAdjust="spacingAndGlyphs" font-size="9.4">94a</text>
<text x="273.7" y="362.3" textLength="11.3" lengthAdjust="spacingAndGlyphs" font-size="9.4">95</text>
<text x="446" y="345.7" textLength="19.2" lengthAdjust="spacingAndGlyphs" font-size="9.4">96R</text>
<text x="487.4" y="357.5" textLength="19" lengthAdjust="spacingAndGlyphs" font-size="9.4">97R</text>
<text x="347.4" y="442.7" textLength="17.6" lengthAdjust="spacingAndGlyphs" font-size="9.4">96L</text>
<text x="383.5" y="450.8" textLength="17.6" lengthAdjust="spacingAndGlyphs" font-size="9.4">97L</text>
<text x="102.5" y="489.1" textLength="11.9" lengthAdjust="spacingAndGlyphs" font-size="9.4">98</text>
</svg></body></html>
